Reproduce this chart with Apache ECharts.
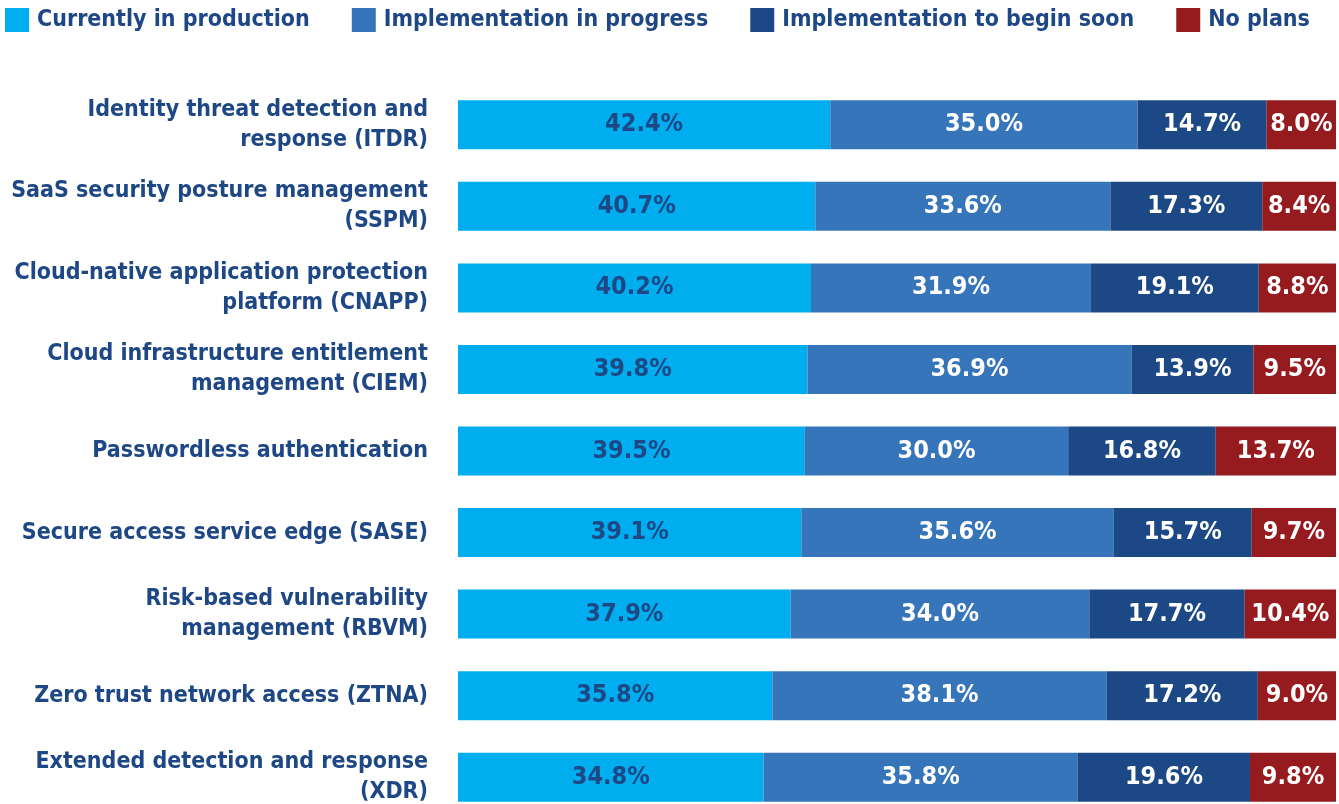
<!DOCTYPE html>
<html>
<head>
<meta charset="utf-8">
<script src="https://cdn.jsdelivr.net/npm/echarts@6/dist/echarts.min.js"></script>
<style>
  html, body { margin: 0; padding: 0; background: #fff; }
  #chart { width: 1339px; height: 804px; }
</style>
</head>
<body>
<div id="chart"></div>
<script>
// categories, top to bottom
var categories = [
  "Identity threat detection and\nresponse (ITDR)",
  "SaaS security posture management\n(SSPM)",
  "Cloud-native application protection\nplatform (CNAPP)",
  "Cloud infrastructure entitlement\nmanagement (CIEM)",
  "Passwordless authentication",
  "Secure access service edge (SASE)",
  "Risk-based vulnerability\nmanagement (RBVM)",
  "Zero trust network access (ZTNA)",
  "Extended detection and response\n(XDR)"
];

var seriesNames = ["Currently in production", "Implementation in progress", "Implementation to begin soon", "No plans"];

var inProduction = [42.4, 40.7, 40.2, 39.8, 39.5, 39.1, 37.9, 35.8, 34.8];
var inProgress   = [35.0, 33.6, 31.9, 36.9, 30.0, 35.6, 34.0, 38.1, 35.8];
var beginSoon    = [14.7, 17.3, 19.1, 13.9, 16.8, 15.7, 17.7, 17.2, 19.6];
var noPlans      = [8.0, 8.4, 8.8, 9.5, 13.7, 9.7, 10.4, 9.0, 9.8];

var FONT = '"Liberation Sans Narrow", "DejaVu Sans Condensed", "Liberation Sans", sans-serif';
var NAVY = '#1e4785';
var colors = ['#00aeef', '#3775ba', '#1c4885', '#961b1f'];
var labelColors = [NAVY, '#ffffff', '#ffffff', '#ffffff'];

var chart = echarts.init(document.getElementById('chart'));

function makeSeries(idx, data) {
  return {
    name: seriesNames[idx],
    type: 'bar',
    stack: 'total',
    data: data,
    barWidth: 49,
    itemStyle: { color: colors[idx] },
    label: {
      show: true,
      position: 'inside',
      color: labelColors[idx],
      fontFamily: FONT,
      fontWeight: 'bold',
      fontSize: 25,
      formatter: function (p) { return p.value.toFixed(1) + '%'; }
    }
  };
}

chart.setOption({
  animation: false,
  color: colors,
  legend: {
    left: 0,
    top: 8,
    padding: [0, 0, 0, 5],
    itemWidth: 24,
    itemHeight: 24,
    itemGap: 42,
    icon: 'rect',
    textStyle: {
      color: NAVY,
      fontFamily: FONT,
      fontWeight: 'bold',
      fontSize: 23,
      padding: [0, 0, 0, 3]
    },
    data: seriesNames
  },
  grid: {
    left: 458,
    right: 3,
    top: 84,
    bottom: -14,
    outerBoundsMode: 'none'
  },
  xAxis: {
    type: 'value',
    min: 0,
    max: 100,
    show: false
  },
  yAxis: {
    type: 'category',
    inverse: true,
    data: categories,
    axisLine: { show: false },
    axisTick: { show: false },
    axisLabel: {
      margin: 30,
      color: NAVY,
      fontFamily: FONT,
      fontWeight: 'bold',
      fontSize: 23,
      lineHeight: 30,
      align: 'right'
    }
  },
  series: [
    makeSeries(0, inProduction),
    makeSeries(1, inProgress),
    makeSeries(2, beginSoon),
    makeSeries(3, noPlans)
  ]
});
</script>
</body>
</html>
